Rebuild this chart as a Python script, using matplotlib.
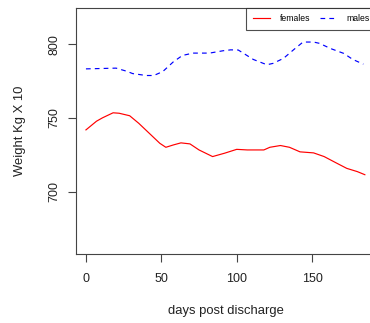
"""Weight after discharge, females vs males (smoothed curves)."""
import matplotlib
matplotlib.use("Agg")
import matplotlib.pyplot as plt

plt.rcParams.update({"font.family": ["Liberation Sans", "DejaVu Sans"], "font.size": 9})

fem_days = [0, 7, 11, 18, 22, 29, 35, 42, 49, 53, 58, 63, 69, 75, 84, 92,
            100, 107, 118, 122, 129, 135, 142, 151, 158, 166, 173, 180, 185]
fem_weight = [741.8, 747.7, 750.0, 753.4, 753.1, 751.4, 746.3, 739.5, 732.7, 730.0,
              731.6, 733.0, 732.3, 728.2, 723.7, 726.0, 728.6, 728.2, 728.2, 730.0,
              731.2, 730.0, 726.9, 726.2, 723.7, 719.4, 715.7, 713.5, 711.4]

male_days = [0, 20, 27, 31, 40, 45, 51, 58, 64, 71, 82, 91, 96, 101, 104,
             111, 120, 124, 131, 138, 144, 151, 155, 162, 171, 177, 184]
male_weight = [783.2, 783.7, 781.6, 780.0, 778.7, 778.7, 781.4, 788.0, 792.3, 793.9,
               793.9, 795.5, 796.1, 796.0, 794.1, 789.6, 786.0, 786.9, 790.3, 796.4,
               801.4, 801.4, 800.5, 797.1, 793.7, 789.6, 786.4]

x_ticks = [0, 50, 100, 150]
y_ticks = [700, 750, 800]

fig = plt.figure(figsize=(3.7, 3.23), dpi=100)
ax = fig.add_axes([76 / 370, 69 / 323, 300 / 370, 246 / 323])

ax.plot(fem_days, fem_weight, color="red", lw=0.85, label="females")
ax.plot(male_days, male_weight, color="blue", lw=0.85, ls=(0, (4, 3.5)), label="males")

ax.set_xlim(-6.6, 192.4)
ax.set_ylim(657.6, 824.5)
ax.set_xticks(x_ticks)
ax.set_yticks(y_ticks)
for s in ax.spines.values():
    s.set_color("#444444")
    s.set_linewidth(0.8)
ax.tick_params(length=5.5, width=0.8, color="#444444", labelcolor="#222222")
ax.tick_params(axis="x", pad=8.5)
ax.tick_params(axis="y", pad=6)
plt.setp(ax.get_yticklabels(), rotation=90, va="center")

ax.set_xlabel("days post discharge", fontsize=9.4, color="#222222")
ax.set_ylabel("Weight Kg X 10", fontsize=9.4, color="#222222")
ax.xaxis.set_label_coords(0.5, -0.207)
ax.yaxis.set_label_coords(-0.165, 0.5)

leg = ax.legend(loc="upper right", ncol=2, fontsize=6.2, frameon=True, fancybox=False,
                borderaxespad=0, handlelength=2.0, columnspacing=1.1, handletextpad=1.1,
                borderpad=0.75)
leg.get_frame().set_edgecolor("#222222")
leg.get_frame().set_linewidth(0.8)

fig.savefig("out.png", dpi=100)
